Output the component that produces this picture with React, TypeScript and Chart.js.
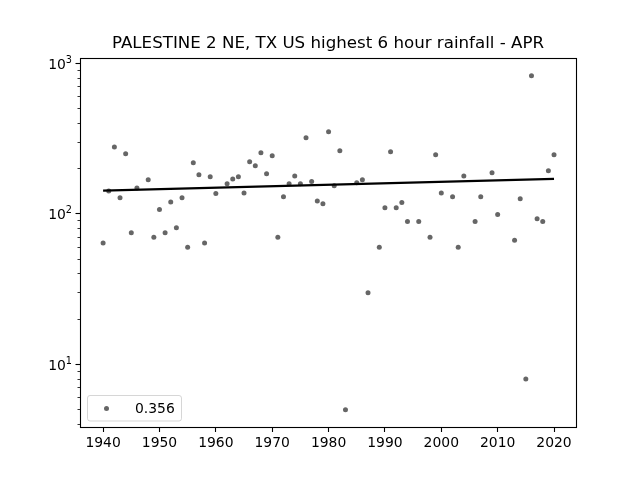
import React, { useEffect, useRef } from "react";
import { Chart, registerables } from "chart.js";

Chart.register(...registerables);

const FONT = "'DejaVu Sans'";
const TITLE = "PALESTINE 2 NE, TX US highest 6 hour rainfall - APR";
const LEGEND_LABEL = "0.356";

const years = [1940,1941,1942,1943,1944,1945,1946,1948,1949,1950,1951,1952,1953,1954,1955,1956,1957,1958,1959,1960,1962,1963,1964,1965,1966,1967,1968,1969,1970,1971,1972,1973,1974,1975,1976,1977,1978,1979,1980,1981,1982,1983,1985,1986,1987,1989,1990,1991,1992,1993,1994,1996,1998,1999,2000,2002,2003,2004,2006,2007,2009,2010,2013,2014,2015,2016,2017,2018,2019,2020];
const rainfall = [64,142,279,128,251,75,149,169,70,107,75,120,81,128,60,219,182,64,177,137,159,171,177,138,222,209,255,185,244,70,130,159,179,159,321,164,122,117,352,154,263,5,161,169,30,60,110,259,110,119,89,89,70,247,138,130,60,179,89,130,188,99,67,126,8,828,93,89,194,247];
const trendYears = [1940, 2020];
const trendValues = [143, 171];

const xTicks = [1940,1950,1960,1970,1980,1990,2000,2010,2020];
const yMajorExponents = [1,2,3];
const yMinorTicks = [4,5,6,7,8,9,20,30,40,50,60,70,80,90,200,300,400,500,600,700,800,900];

const framePlugin = {
  id: "frame",
  afterDraw(chart: any) {
    const { ctx, chartArea: a, scales } = chart;
    const y = scales.y;
    ctx.save();
    ctx.strokeStyle = "#000";
    ctx.lineWidth = 1.1;
    ctx.strokeRect(a.left + 0.5, a.top + 0.5, a.right - a.left, a.bottom - a.top);
    ctx.fillStyle = "#000";
    ctx.textBaseline = "alphabetic";
    yMinorTicks.forEach((v) => {
      const p = Math.floor(y.getPixelForValue(v)) + 0.5;
      ctx.lineWidth = 0.8;
      ctx.beginPath();
      ctx.moveTo(a.left + 0.5, p);
      ctx.lineTo(a.left + 0.5 - 3, p);
      ctx.stroke();
    });
    yMajorExponents.forEach((e) => {
      const p = Math.floor(y.getPixelForValue(Math.pow(10, e))) + 0.5;
      ctx.lineWidth = 1.1;
      ctx.beginPath();
      ctx.moveTo(a.left + 0.5, p);
      ctx.lineTo(a.left + 0.5 - 5, p);
      ctx.stroke();
      ctx.textAlign = "right";
      ctx.font = `9.7px ${FONT}`;
      ctx.fillText(String(e), a.left - 8, p - 1);
      const w = ctx.measureText(String(e)).width;
      ctx.font = `13.9px ${FONT}`;
      ctx.fillText("10", a.left - 8 - w, p + 5);
    });

    // legend
    const ds = chart.data.datasets[0];
    const bx = 87.5, by = 395.5, bw = 94, bh = 25.5;
    ctx.beginPath();
    ctx.roundRect(bx, by, bw, bh, 2.5);
    ctx.fillStyle = "rgba(255,255,255,0.8)";
    ctx.fill();
    ctx.strokeStyle = "rgba(204,204,204,0.8)";
    ctx.lineWidth = 1;
    ctx.stroke();
    ctx.beginPath();
    ctx.arc(106.5, 408.5, ds.pointRadius, 0, Math.PI * 2);
    ctx.fillStyle = ds.backgroundColor;
    ctx.fill();
    ctx.fillStyle = "#000";
    ctx.font = `13.9px ${FONT}`;
    ctx.textAlign = "left";
    ctx.fillText(ds.label, 135, 413);
    ctx.restore();
  },
};

export default function App() {
  const ref = useRef<HTMLCanvasElement>(null);
  useEffect(() => {
    const chart = new Chart(ref.current!, {
      type: "scatter",
      data: {
        datasets: [
          {
            label: LEGEND_LABEL,
            data: years.map((x, i) => ({ x, y: rainfall[i] })),
            backgroundColor: "rgba(0,0,0,0.6)",
            borderWidth: 0,
            pointRadius: 2.5,
            order: 2,
          } as any,
          {
            type: "line",
            label: "trend",
            data: trendYears.map((x, i) => ({ x, y: trendValues[i] })),
            borderColor: "#000",
            borderWidth: 2.1,
            pointRadius: 0,
            order: 1,
          } as any,
        ],
      },
      options: {
        animation: false,
        responsive: false,
        devicePixelRatio: 1,
        layout: { padding: { top: 34, right: 64, left: 0, bottom: 0 } },
        plugins: {
          legend: { display: false },
          tooltip: { enabled: false },
          title: {
            display: true,
            text: TITLE,
            fullSize: false,
            color: "#000",
            font: { family: FONT, size: 16.67, weight: "normal", lineHeight: 1.2 },
            padding: { top: 0, bottom: 4 },
          },
        },
        scales: {
          x: {
            type: "linear",
            min: 1935.9,
            max: 2023.9,
            afterBuildTicks: (s: any) => {
              s.ticks = xTicks.map((value) => ({ value }));
            },
            afterFit: (s: any) => {
              s.height = 53;
            },
            border: { display: false },
            grid: {
              drawOnChartArea: false,
              drawTicks: true,
              tickLength: 5,
              tickColor: "#000",
              tickWidth: 1.1,
            },
            ticks: {
              color: "#000",
              maxRotation: 0,
              autoSkip: false,
              padding: 3,
              font: { family: FONT, size: 13.9 },
              callback: (v: any) => String(v),
            },
          },
          y: {
            type: "logarithmic",
            min: Math.pow(10, 0.5843),
            max: Math.pow(10, 3.0363),
            afterFit: (s: any) => {
              s.width = 80;
            },
            border: { display: false },
            grid: { display: false },
            ticks: { display: false },
          },
        },
      },
      plugins: [framePlugin],
    } as any);
    return () => chart.destroy();
  }, []);
  return (
    <div style={{ position: "fixed", left: 0, top: 0, width: 640, height: 480, background: "#fff" }}>
      <canvas ref={ref} width={640} height={480} style={{ display: "block" }} />
    </div>
  );
}
